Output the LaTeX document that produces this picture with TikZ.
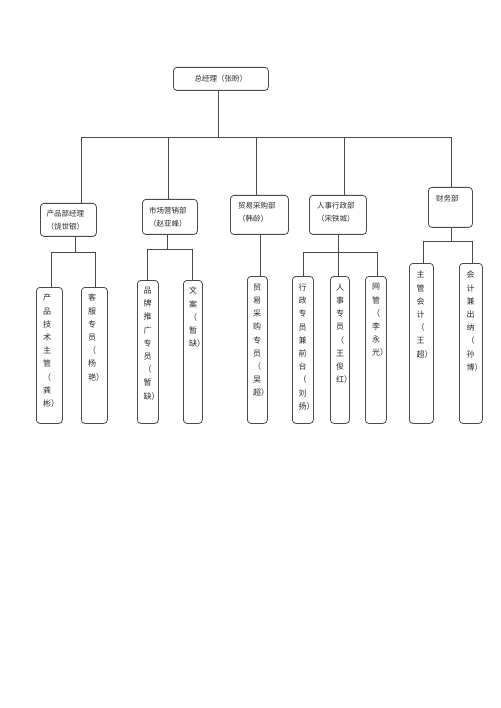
\documentclass[tikz,border=0pt]{standalone}
\usepackage{fontspec}
\newfontfamily\cjk{Noto Sans CJK SC}
\usetikzlibrary{calc}
\definecolor{ln}{HTML}{4A4A4A}
\definecolor{tx}{HTML}{2A2A2A}
\tikzset{
  box/.style={draw=ln, line width=0.8pt, rounded corners=3.5pt, inner sep=0pt},
  conn/.style={draw=ln, line width=0.8pt},
  lvtext/.style={anchor=north west, inner sep=0pt, align=left, text=tx,
    font=\cjk\fontsize{7.5}{12.5}\selectfont},
  coltext/.style={anchor=north west, inner sep=0pt, align=left, text=tx,
    font=\cjk\fontsize{8}{13.2}\selectfont},
}
\newcommand{\boxat}[5]{% name, x1, y1, x2, y2
  \node[box, anchor=north west, minimum width={(#4-#2)*1pt}, minimum height={(#5-#3)*1pt}] (#1) at (#2,#3) {};}
\begin{document}
\begin{tikzpicture}[x=1pt,y=-1pt]
\useasboundingbox[fill=white] (0,0) rectangle (500,708);

% level 1
\boxat{top}{173}{67}{268}{90}
\node[text=tx, inner sep=0pt, font=\cjk\fontsize{7.5}{9}\selectfont] (toptext) at (top.center) {总经理（张盼）};

% level 2
\boxat{A}{40}{203}{96}{236}
\boxat{B}{142}{199}{197}{234}
\boxat{C}{230}{195}{288}{234}
\boxat{D}{309}{195}{366}{234}
\boxat{E}{428}{187}{472}{227}
\node[lvtext] (At) at ($(A.north west)+(6.5,7)$) {产品部经理\\（饶世银）};
\node[lvtext] (Bt) at ($(B.north west)+(7,8)$) {市场营销部\\（赵亚峰）};
\node[lvtext] (Ct) at ($(C.north west)+(8,7)$) {贸易采购部\\（韩龄）};
\node[lvtext] (Dt) at ($(D.north west)+(8,7)$) {人事行政部\\（宋铁城）};
\node[lvtext] (Et) at ($(E.north west)+(8,7.5)$) {财务部};

% level 3
\boxat{A1}{36}{287}{62}{423}
\boxat{A2}{81}{287}{107}{423}
\boxat{B1}{137}{280}{158}{423}
\boxat{B2}{183}{280}{202}{423}
\boxat{C1}{247}{276}{267}{423}
\boxat{D1}{292}{276}{313}{423}
\boxat{D2}{330}{276}{349}{423}
\boxat{D3}{365}{276}{386}{423}
\boxat{E1}{409}{263}{433}{423}
\boxat{E2}{459}{263}{482}{423}

\node[coltext] (A1t) at ($(A1.north west)+(7,7)$) {产\\品\\技\\术\\主\\管\\（\\龚\\彬）};
\node[coltext] (A2t) at ($(A2.north west)+(7,7)$) {客\\服\\专\\员\\（\\杨\\艳）};
\node[coltext] (B1t) at ($(B1.north west)+(6.5,7)$) {品\\牌\\推\\广\\专\\员\\（\\暂\\缺）};
\node[coltext] (B2t) at ($(B2.north west)+(6,7)$) {文\\案\\（\\暂\\缺）};
\node[coltext] (C1t) at ($(C1.north west)+(6,7.5)$) {贸\\易\\采\\购\\专\\员\\（\\吴\\超）};
\node[coltext] (D1t) at ($(D1.north west)+(6.5,7.5)$) {行\\政\\专\\员\\兼\\前\\台\\（\\刘\\扬）};
\node[coltext] (D2t) at ($(D2.north west)+(6,7.5)$) {人\\事\\专\\员\\（\\王\\俊\\红）};
\node[coltext] (D3t) at ($(D3.north west)+(7,7.5)$) {网\\管\\（\\李\\永\\光）};
\node[coltext] (E1t) at ($(E1.north west)+(7.5,8)$) {主\\管\\会\\计\\（\\王\\超）};
\node[coltext] (E2t) at ($(E2.north west)+(7.5,8)$) {会\\计\\兼\\出\\纳\\（\\孙\\博）};

% bus coordinates
\coordinate (busL) at (81,137.5);
\coordinate (busR) at (451,137.5);
\coordinate (busT) at (218,137.5);
\coordinate (busB) at (168.5,137.5);
\coordinate (busC) at (256.5,137.5);
\coordinate (busD) at (344.5,137.5);

% level 1 -> level 2
\draw[conn] (top.south -| busT) -- (busT);
\draw[conn] (busL) -- (busR);
\draw[conn] (busL) -- (busL |- A.north);
\draw[conn] (busB) -- (busB |- B.north);
\draw[conn] (busC) -- (busC |- C.north);
\draw[conn] (busD) -- (busD |- D.north);
\draw[conn] (busR) -- (busR |- E.north);

% A children
\coordinate (jA) at (75,252.7);
\coordinate (jA1) at (51,252.7);
\coordinate (jA2) at (95,252.7);
\draw[conn] (A.south -| jA) -- (jA);
\draw[conn] (jA1 |- A1.north) -- (jA1) -- (jA2) -- (jA2 |- A2.north);

% B children
\coordinate (jB) at (167.7,249.5);
\coordinate (jB1) at (147,249.5);
\coordinate (jB2) at (192.3,249.5);
\draw[conn] (B.south -| jB) -- (jB);
\draw[conn] (jB1 |- B1.north) -- (jB1) -- (jB2) -- (jB2 |- B2.north);

% C child
\coordinate (jC) at (260,250);
\draw[conn] (C.south -| jC) -- (jC |- C1.north);

% D children
\coordinate (jD) at (338.5,252.7);
\coordinate (jD1) at (303.3,252.7);
\coordinate (jD3) at (377.7,252.7);
\draw[conn] (D.south -| jD) -- (jD |- D2.north);
\draw[conn] (jD1 |- D1.north) -- (jD1) -- (jD3) -- (jD3 |- D3.north);

% E children
\coordinate (jE) at (451,241.7);
\coordinate (jE1) at (423.3,241.7);
\coordinate (jE2) at (472.3,241.7);
\draw[conn] (E.south -| jE) -- (jE);
\draw[conn] (jE1 |- E1.north) -- (jE1) -- (jE2) -- (jE2 |- E2.north);
\end{tikzpicture}
\end{document}
